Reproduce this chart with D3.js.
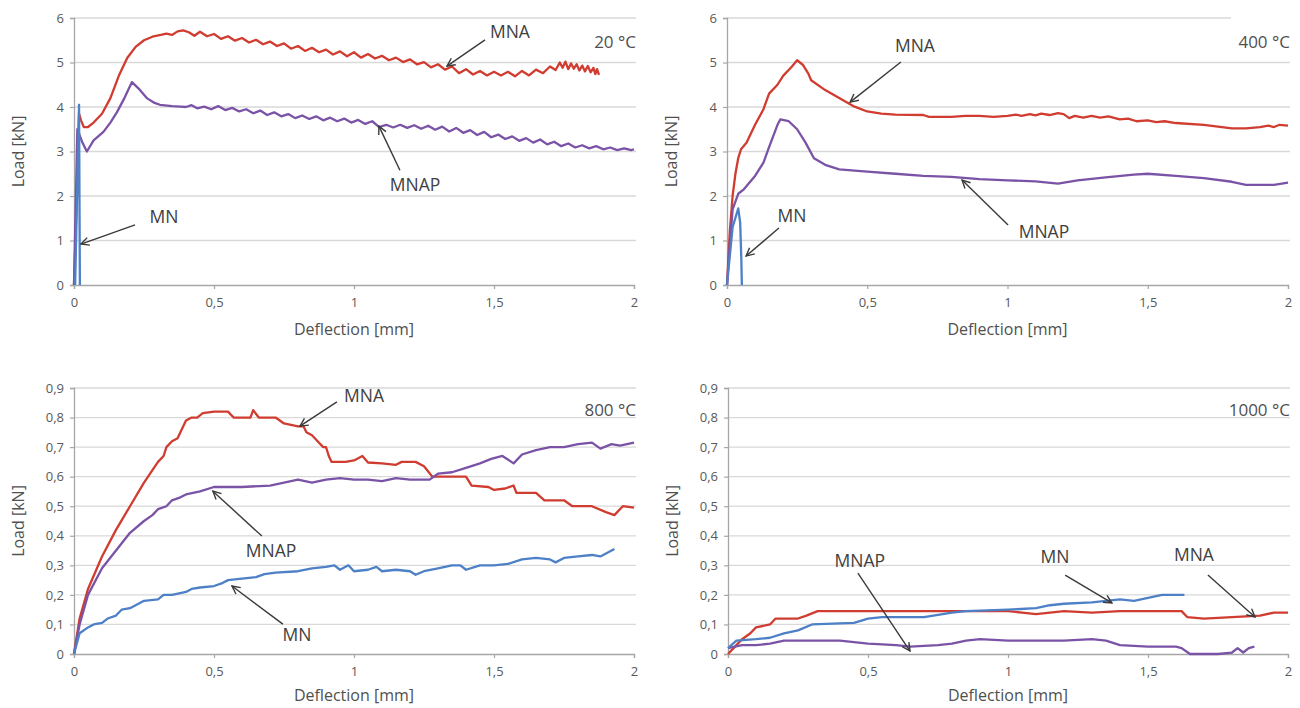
<!DOCTYPE html>
<html><head><meta charset="utf-8">
<script src="https://cdn.jsdelivr.net/npm/d3@7"></script>
<style>
html,body{margin:0;padding:0;background:#fff;}
text{font-family:"Open Sans","Noto Sans",sans-serif;}
</style></head>
<body><svg id="c" width="1300" height="708"></svg>
<script>
// ---------- DATA ----------
const xTicks = [0, 0.5, 1, 1.5, 2];
const xTickLabels = ["0", "0,5", "1", "1,5", "2"];
const yTicksHigh = [0, 1, 2, 3, 4, 5, 6];
const yTickLabelsHigh = ["0", "1", "2", "3", "4", "5", "6"];
const yTicksLow = [0, 0.1, 0.2, 0.3, 0.4, 0.5, 0.6, 0.7, 0.8, 0.9];
const yTickLabelsLow = ["0", "0,1", "0,2", "0,3", "0,4", "0,5", "0,6", "0,7", "0,8", "0,9"];
const seriesNames = ["MNA", "MNAP", "MN"];
const temperatures = ["20 °C", "400 °C", "800 °C", "1000 °C"];

// 20 °C
const mna20 = [[0,0],[0.01,2.0],[0.018,3.85],[0.025,3.7],[0.035,3.55],[0.05,3.55],[0.07,3.65],[0.1,3.85],[0.13,4.2],[0.16,4.7],[0.19,5.1],[0.22,5.35],[0.25,5.5],[0.28,5.58],[0.31,5.62],[0.33,5.65],[0.35,5.62],[0.37,5.7],[0.39,5.72],[0.41,5.68],
[0.43,5.6],[0.45,5.69],[0.475,5.59],[0.50,5.64],[0.525,5.53],[0.55,5.59],[0.575,5.49],[0.60,5.55],[0.625,5.45],[0.65,5.51],[0.675,5.41],[0.70,5.47],[0.725,5.37],[0.75,5.43],[0.775,5.31],[0.80,5.37],[0.825,5.26],[0.85,5.33],[0.875,5.23],[0.90,5.29],[0.925,5.18],[0.95,5.25],[0.975,5.14],[1.00,5.23],[1.025,5.11],[1.05,5.19],[1.075,5.09],[1.10,5.15],[1.125,5.05],[1.15,5.11],[1.175,5.01],[1.20,5.07],[1.225,4.96],[1.25,5.01],[1.275,4.89],[1.30,4.96],[1.325,4.84],[1.35,4.91],[1.375,4.76],[1.40,4.85],[1.425,4.73],[1.45,4.81],[1.475,4.71],[1.50,4.79],[1.525,4.71],[1.55,4.79],[1.575,4.69],[1.60,4.81],[1.625,4.71],[1.65,4.84],[1.675,4.76],[1.70,4.91],[1.72,4.83],
[1.735,5.00],[1.745,4.88],[1.755,5.02],[1.765,4.85],[1.775,4.98],[1.785,4.86],[1.795,4.96],[1.805,4.82],[1.815,4.93],[1.825,4.80],[1.835,4.92],[1.845,4.78],[1.855,4.88],[1.862,4.74],[1.868,4.85],[1.875,4.72]];
const mnap20 = [[0,0],[0.012,3.5],[0.03,3.2],[0.046,3.0],[0.07,3.25],[0.105,3.44],[0.13,3.65],[0.153,3.88],[0.18,4.2],[0.207,4.56],[0.23,4.42],[0.26,4.2],[0.285,4.1],[0.307,4.05],[0.35,4.02],[0.38,4.01],
[0.40,4.00],[0.42,4.04],[0.44,3.97],[0.465,4.01],[0.49,3.95],[0.515,4.02],[0.54,3.93],[0.565,3.98],[0.59,3.90],[0.615,3.95],[0.64,3.86],[0.665,3.92],[0.69,3.82],[0.715,3.88],[0.74,3.79],[0.765,3.84],[0.79,3.75],[0.815,3.81],[0.84,3.73],[0.865,3.79],[0.89,3.70],[0.915,3.76],[0.94,3.68],[0.965,3.74],[0.99,3.65],[1.015,3.71],[1.04,3.62],[1.065,3.68],[1.09,3.55],[1.115,3.60],[1.14,3.54],[1.165,3.60],[1.19,3.53],[1.215,3.59],[1.24,3.51],[1.265,3.58],[1.29,3.49],[1.315,3.56],[1.34,3.45],[1.365,3.53],[1.39,3.42],[1.415,3.48],[1.44,3.37],[1.465,3.44],[1.49,3.32],[1.515,3.38],[1.54,3.28],[1.565,3.34],[1.59,3.24],[1.615,3.30],[1.64,3.20],[1.665,3.27],[1.69,3.16],[1.715,3.22],[1.74,3.12],[1.765,3.18],[1.79,3.09],[1.815,3.14],[1.84,3.07],[1.865,3.12],[1.89,3.05],[1.915,3.09],[1.94,3.03],[1.965,3.07],[1.99,3.03],[2.0,3.05]];
const mn20 = [[0.004,0],[0.018,4.05],[0.021,0]];

// 400 °C
const mna400 = [[0,0],[0.01,1.2],[0.02,2.0],[0.03,2.5],[0.04,2.85],[0.05,3.05],[0.07,3.2],[0.1,3.6],[0.13,3.95],[0.15,4.3],[0.18,4.5],[0.2,4.7],[0.23,4.9],[0.25,5.05],[0.27,4.95],[0.29,4.75],[0.3,4.6],[0.35,4.38],[0.4,4.2],[0.45,4.02],[0.5,3.9],[0.55,3.85],[0.6,3.83],[0.7,3.82],[0.72,3.78],[0.8,3.78],[0.85,3.8],[0.9,3.8],[0.95,3.78],[1.0,3.8],[1.03,3.83],[1.05,3.8],[1.08,3.84],[1.1,3.81],[1.12,3.85],[1.15,3.82],[1.18,3.86],[1.2,3.84],[1.22,3.75],[1.24,3.8],[1.27,3.76],[1.3,3.8],[1.33,3.76],[1.36,3.79],[1.4,3.72],[1.43,3.74],[1.46,3.68],[1.5,3.7],[1.53,3.66],[1.56,3.68],[1.6,3.64],[1.7,3.6],[1.75,3.56],[1.8,3.52],[1.85,3.52],[1.9,3.55],[1.93,3.58],[1.95,3.55],[1.97,3.6],[2.0,3.58]];
const mnap400 = [[0,0],[0.01,0.9],[0.02,1.7],[0.04,2.05],[0.06,2.15],[0.1,2.45],[0.13,2.75],[0.15,3.1],[0.18,3.6],[0.19,3.72],[0.22,3.68],[0.25,3.5],[0.28,3.2],[0.31,2.85],[0.35,2.7],[0.4,2.6],[0.5,2.55],[0.6,2.5],[0.7,2.45],[0.8,2.43],[0.9,2.38],[1.0,2.35],[1.1,2.33],[1.18,2.28],[1.25,2.35],[1.35,2.42],[1.45,2.48],[1.5,2.5],[1.6,2.45],[1.7,2.4],[1.8,2.32],[1.85,2.25],[1.95,2.25],[2.0,2.3]];
const mn400 = [[0,0],[0.02,1.3],[0.04,1.72],[0.047,1.4],[0.051,0.6],[0.053,0]];

// 800 °C
const mna800 = [[0,0],[0.02,0.12],[0.05,0.22],[0.1,0.33],[0.15,0.42],[0.2,0.5],[0.25,0.58],[0.3,0.65],[0.32,0.67],[0.33,0.7],[0.35,0.72],[0.37,0.73],[0.38,0.75],[0.4,0.79],[0.42,0.8],[0.44,0.8],[0.46,0.815],[0.5,0.82],[0.55,0.82],[0.57,0.8],[0.63,0.8],[0.64,0.825],[0.66,0.8],[0.72,0.8],[0.75,0.78],[0.8,0.77],[0.82,0.77],[0.83,0.75],[0.85,0.74],[0.87,0.72],[0.89,0.7],[0.9,0.7],[0.91,0.67],[0.92,0.65],[0.97,0.65],[1.0,0.655],[1.03,0.67],[1.05,0.648],[1.1,0.645],[1.15,0.64],[1.17,0.65],[1.22,0.65],[1.25,0.635],[1.28,0.6],[1.3,0.6],[1.35,0.6],[1.4,0.6],[1.42,0.57],[1.48,0.565],[1.5,0.555],[1.54,0.56],[1.57,0.57],[1.58,0.545],[1.65,0.545],[1.68,0.52],[1.75,0.52],[1.78,0.5],[1.85,0.5],[1.9,0.48],[1.93,0.47],[1.96,0.5],[2.0,0.495]];
const mnap800 = [[0,0],[0.02,0.1],[0.05,0.2],[0.1,0.29],[0.15,0.35],[0.2,0.41],[0.25,0.45],[0.28,0.47],[0.3,0.49],[0.33,0.5],[0.35,0.52],[0.38,0.53],[0.4,0.54],[0.45,0.55],[0.5,0.565],[0.6,0.565],[0.7,0.57],[0.75,0.58],[0.8,0.59],[0.85,0.58],[0.9,0.59],[0.95,0.595],[1.0,0.59],[1.05,0.59],[1.1,0.585],[1.15,0.595],[1.2,0.59],[1.27,0.59],[1.3,0.61],[1.35,0.615],[1.4,0.63],[1.45,0.645],[1.49,0.66],[1.53,0.67],[1.57,0.645],[1.6,0.675],[1.65,0.69],[1.7,0.7],[1.75,0.7],[1.8,0.71],[1.85,0.715],[1.88,0.695],[1.92,0.71],[1.95,0.705],[2.0,0.715]];
const mn800 = [[0,0],[0.02,0.07],[0.05,0.09],[0.07,0.1],[0.1,0.105],[0.12,0.12],[0.15,0.13],[0.17,0.15],[0.2,0.155],[0.22,0.165],[0.25,0.18],[0.3,0.185],[0.32,0.2],[0.35,0.2],[0.4,0.21],[0.42,0.22],[0.45,0.225],[0.5,0.23],[0.53,0.24],[0.55,0.25],[0.6,0.255],[0.65,0.26],[0.68,0.27],[0.72,0.275],[0.8,0.28],[0.85,0.29],[0.9,0.295],[0.93,0.3],[0.95,0.285],[0.98,0.3],[1.0,0.28],[1.05,0.285],[1.08,0.295],[1.1,0.28],[1.15,0.285],[1.2,0.28],[1.22,0.268],[1.25,0.28],[1.3,0.29],[1.35,0.3],[1.38,0.3],[1.4,0.285],[1.45,0.3],[1.5,0.3],[1.55,0.305],[1.6,0.32],[1.65,0.325],[1.7,0.32],[1.72,0.31],[1.75,0.325],[1.8,0.33],[1.85,0.335],[1.88,0.33],[1.9,0.34],[1.93,0.355]];

// 1000 °C
const mna1000 = [[0,0],[0.03,0.03],[0.05,0.05],[0.08,0.07],[0.1,0.09],[0.15,0.1],[0.17,0.12],[0.25,0.12],[0.28,0.13],[0.32,0.145],[0.5,0.145],[0.8,0.145],[1.0,0.145],[1.05,0.14],[1.1,0.135],[1.15,0.14],[1.2,0.145],[1.3,0.14],[1.4,0.145],[1.5,0.145],[1.62,0.145],[1.64,0.125],[1.7,0.12],[1.8,0.125],[1.9,0.13],[1.95,0.14],[2.0,0.14]];
const mn1000 = [[0,0.02],[0.03,0.045],[0.1,0.05],[0.15,0.055],[0.2,0.07],[0.25,0.08],[0.3,0.1],[0.45,0.105],[0.5,0.12],[0.55,0.125],[0.7,0.125],[0.8,0.14],[0.85,0.145],[1.0,0.15],[1.1,0.155],[1.15,0.165],[1.2,0.17],[1.3,0.175],[1.35,0.18],[1.4,0.185],[1.45,0.18],[1.5,0.19],[1.55,0.2],[1.63,0.2]];
const mnap1000 = [[0,0.02],[0.05,0.03],[0.1,0.03],[0.15,0.035],[0.2,0.045],[0.3,0.045],[0.4,0.045],[0.5,0.035],[0.6,0.03],[0.65,0.025],[0.75,0.03],[0.8,0.035],[0.85,0.045],[0.9,0.05],[1.0,0.045],[1.1,0.045],[1.2,0.045],[1.3,0.05],[1.35,0.045],[1.4,0.03],[1.5,0.025],[1.6,0.025],[1.62,0.02],[1.65,0.0],[1.75,0.0],[1.8,0.005],[1.82,0.02],[1.84,0.005],[1.86,0.02],[1.88,0.025]];

// annotations: [label, textX, textY, arrowFromX, arrowFromY, arrowToX, arrowToY] in data units
const notes20 = [["MNA",1.557,5.55,1.468,5.51,1.332,4.92],["MNAP",1.218,2.11,1.164,2.58,1.089,3.57],["MN",0.321,1.39,0.218,1.35,0.025,0.92]];
const notes400 = [["MNA",0.67,5.24,0.62,5.01,0.439,4.11],["MNAP",1.13,1.06,1.002,1.35,0.838,2.36],["MN",0.232,1.42,0.185,1.28,0.068,0.65]];
const notes800 = [["MNA",1.036,0.853,0.939,0.853,0.807,0.771],["MNAP",0.704,0.328,0.671,0.399,0.496,0.551],["MN",0.796,0.044,0.746,0.101,0.564,0.23]];
const notes1000 = [["MNAP",0.471,0.294,0.464,0.274,0.65,0.01],["MN",1.168,0.308,1.204,0.267,1.371,0.173],["MNA",1.664,0.315,1.714,0.267,1.882,0.125]];

// ---------- STYLE / LAYOUT ----------
const colors = {MNA:"#d03c30", MNAP:"#7a53a6", MN:"#4d80c6"};
const panels = [
  {l:74, r:634, t:18, b:285, yMax:6, yt:yTicksHigh, yl:yTickLabelsHigh, temp:temperatures[0], tempY:5.33, topGridEnd:2, s:{MNA:mna20,MNAP:mnap20,MN:mn20}, notes:notes20},
  {l:727, r:1288, t:18, b:285, yMax:6, yt:yTicksHigh, yl:yTickLabelsHigh, temp:temperatures[1], tempY:5.33, topGridEnd:1.79, s:{MNA:mna400,MNAP:mnap400,MN:mn400}, notes:notes400},
  {l:74, r:634, t:388, b:654, yMax:0.9, yt:yTicksLow, yl:yTickLabelsLow, temp:temperatures[2], tempY:0.805, topGridEnd:2, s:{MNA:mna800,MNAP:mnap800,MN:mn800}, notes:notes800},
  {l:728, r:1288, t:388, b:654, yMax:0.9, yt:yTicksLow, yl:yTickLabelsLow, temp:temperatures[3], tempY:0.805, topGridEnd:2, s:{MNA:mna1000,MNAP:mnap1000,MN:mn1000}, notes:notes1000}
];

const svg = d3.select("#c");
svg.append("defs").append("marker")
  .attr("id","arr").attr("viewBox","0 0 10 10").attr("refX",9).attr("refY",5)
  .attr("markerWidth",10).attr("markerHeight",10).attr("markerUnits","userSpaceOnUse").attr("orient","auto")
  .append("path").attr("d","M1,1 L9,5 L1,9").attr("fill","none").attr("stroke","#3a3a3a").attr("stroke-width",1.4);

panels.forEach(p => {
  const x = d3.scaleLinear().domain([0,2]).range([p.l,p.r]);
  const y = d3.scaleLinear().domain([0,p.yMax]).range([p.b,p.t]);
  const g = svg.append("g");

  // gridlines
  g.append("g").selectAll("line").data(p.yt.filter(v=>v>0)).join("line")
    .attr("x1",p.l).attr("x2",d=> d===p.yMax ? x(p.topGridEnd)+2 : p.r+2).attr("y1",d=>y(d)).attr("y2",d=>y(d))
    .attr("stroke","#d9d9d9").attr("stroke-width",1.3);

  // y axis
  const ya = g.append("g").attr("transform",`translate(${p.l},0)`)
    .call(d3.axisLeft(y).tickValues(p.yt).tickFormat((d,i)=>p.yl[i]).tickSize(4).tickPadding(6));
  // x axis
  const xa = g.append("g").attr("transform",`translate(0,${p.b})`)
    .call(d3.axisBottom(x).tickValues(xTicks).tickFormat((d,i)=>xTickLabels[i]).tickSize(4).tickPadding(9));
  [ya,xa].forEach(a=>{
    a.select(".domain").attr("stroke","#a6a6a6").attr("stroke-width",1.3);
    a.selectAll(".tick line").attr("stroke","#a6a6a6").attr("stroke-width",1.2);
    a.selectAll(".tick text").attr("fill","#595959").style("font-size","13px").style("font-family","'Open Sans',sans-serif");
  });

  // axis titles
  g.append("text").attr("transform",`translate(${p.l-56},${(p.t+p.b)/2}) rotate(-90)`)
    .attr("text-anchor","middle").attr("dy","0.35em").attr("fill","#505050").style("font-size","16px").text("Load [kN]");
  g.append("text").attr("x",(p.l+p.r)/2).attr("y",Math.min(p.b+50, 701))
    .attr("text-anchor","middle").attr("fill","#505050").style("font-size","16px").text("Deflection [mm]");

  // series
  const line = d3.line().x(d=>x(d[0])).y(d=>y(d[1]));
  seriesNames.forEach(n=>{
    g.append("path").datum(p.s[n]).attr("d",line).attr("fill","none")
      .attr("stroke",colors[n]).attr("stroke-width",2.3).attr("stroke-linejoin","round");
  });

  // temperature label
  g.append("text").attr("x",x(2)+2).attr("y",y(p.tempY)).attr("text-anchor","end")
    .attr("fill","#505050").style("font-size","17px").text(p.temp);

  // annotations
  p.notes.forEach(nt=>{
    g.append("line").attr("x1",x(nt[3])).attr("y1",y(nt[4])).attr("x2",x(nt[5])).attr("y2",y(nt[6]))
      .attr("stroke","#3a3a3a").attr("stroke-width",1.4).attr("marker-end","url(#arr)");
    g.append("text").attr("x",x(nt[1])).attr("y",y(nt[2])).attr("text-anchor","middle")
      .attr("fill","#404040").style("font-size","17.5px").text(nt[0]);
  });
});
</script></body></html>
